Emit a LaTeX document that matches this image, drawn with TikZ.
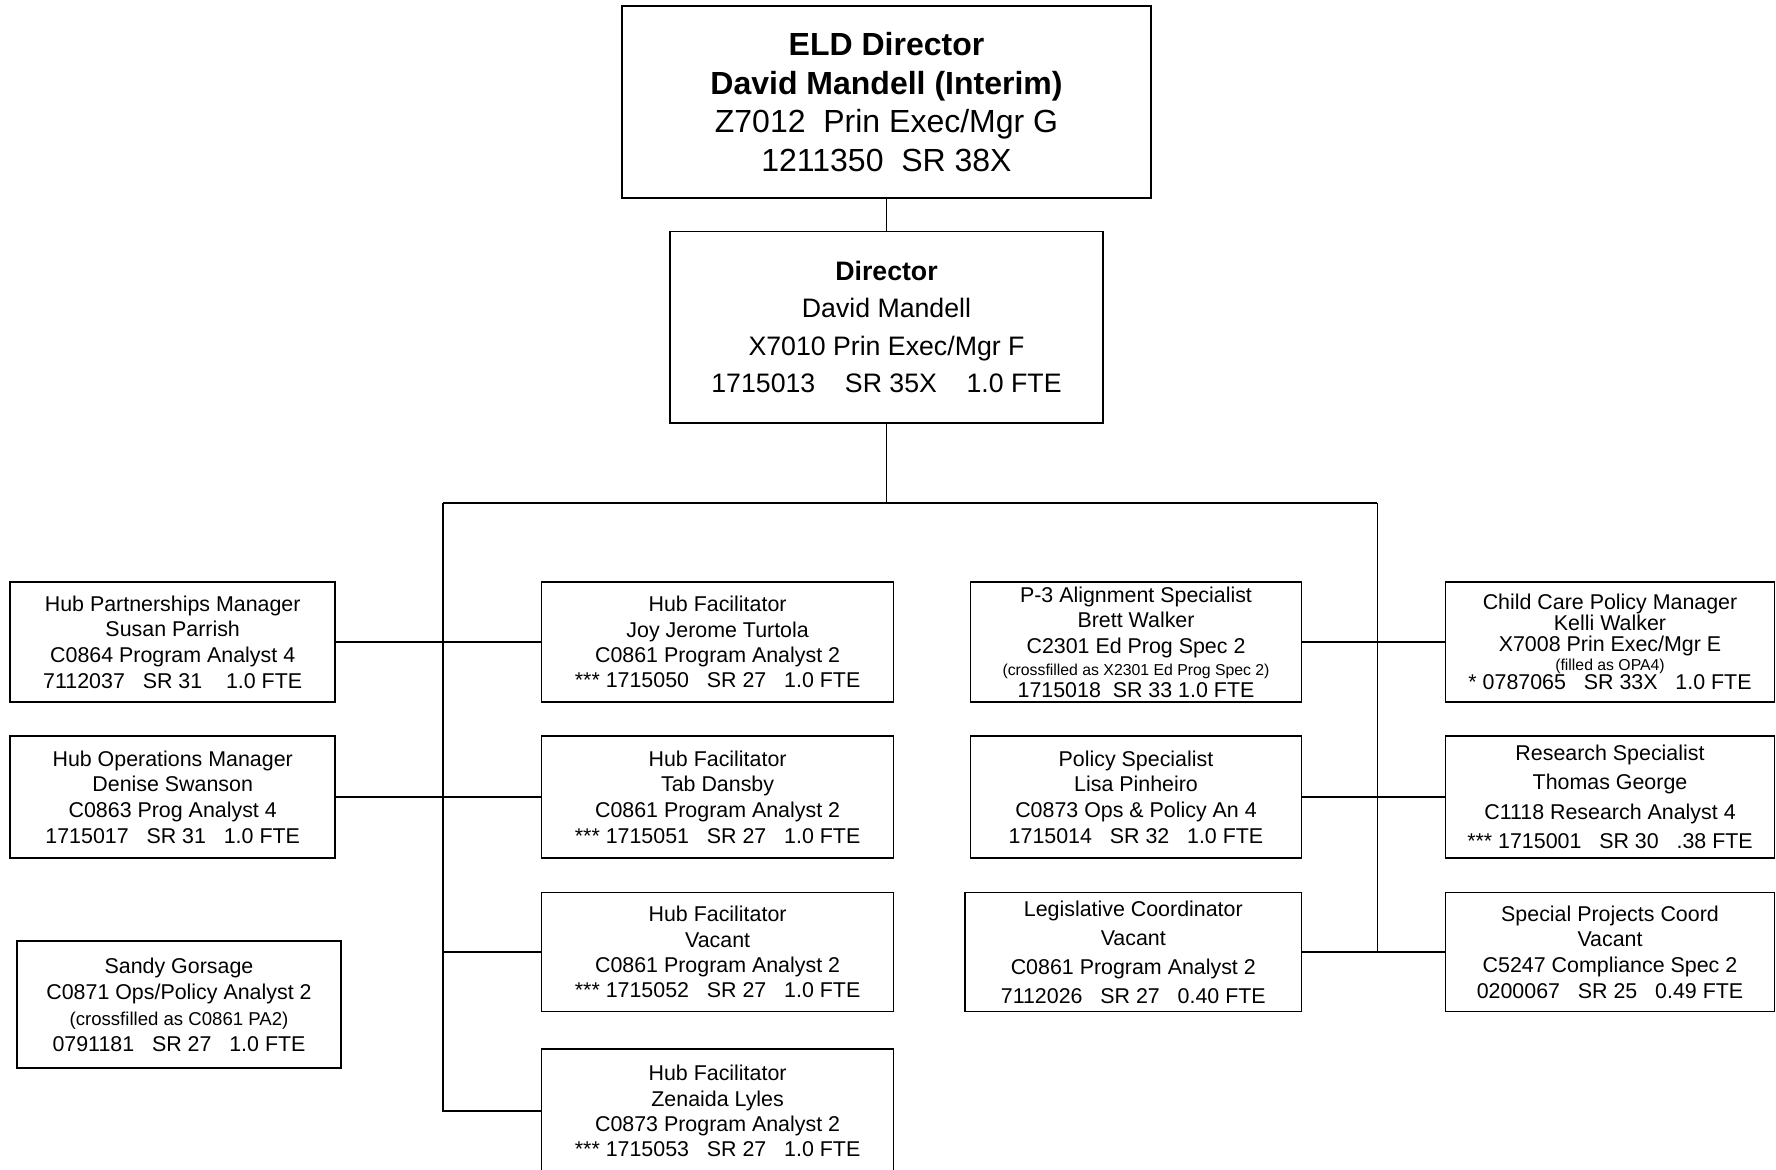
\documentclass[tikz,border=0pt]{standalone}
\usepackage{fontspec}
\setmainfont{Liberation Sans}
\begin{document}
\begin{tikzpicture}[x=0.5pt,y=-0.5pt,
  box/.style={draw, line width=0.75pt, align=center, inner sep=0pt,
    font=\fontsize{10.7}{12.85}\selectfont},
  conn/.style={line width=0.7pt},
]
\useasboundingbox (0,0) rectangle (1776,1169);
% top
\node[box, line width=0.95pt, minimum width=264.5pt, minimum height=96pt,
  font=\fontsize{16}{19.3}\selectfont] (top) at (886.5,102)
  {\textbf{ELD Director}\\\textbf{David Mandell (Interim)}\\Z7012\ \ Prin Exec/Mgr G\\1211350\ \ SR 38X};
\node[box, minimum width=216.5pt, minimum height=95.75pt,
  font=\fontsize{13.35}{18.7}\selectfont] (dir) at (886.5,327)
  {\textbf{Director}\\David Mandell\\X7010 Prin Exec/Mgr F\\1715013\ \ \ \ SR 35X\ \ \ \ 1.0 FTE};
% left column
\node[box, minimum width=162.5pt, minimum height=60pt] (hp) at (172.7,642)
  {Hub Partnerships Manager\\Susan Parrish\\C0864 Program Analyst 4\\7112037\ \ \ SR 31\ \ \ \ 1.0 FTE};
\node[box, minimum width=162.5pt, minimum height=61pt] (ho) at (172.7,797)
  {Hub Operations Manager\\Denise Swanson\\C0863 Prog Analyst 4\\1715017\ \ \ SR 31\ \ \ 1.0 FTE};
\node[box, minimum width=162pt, minimum height=63.5pt,
  font=\fontsize{10.7}{13}\selectfont] (sg) at (179,1004.7)
  {Sandy Gorsage\\C0871 Ops/Policy Analyst 2\\{\fontsize{9.3}{13}\selectfont (crossfilled as C0861 PA2)}\\0791181\ \ \ SR 27\ \ \ 1.0 FTE};
% hub facilitators
\node[box, minimum width=176pt, minimum height=60pt,
  font=\fontsize{10.7}{12.6}\selectfont] (hf1) at (717.6,642)
  {Hub Facilitator\\Joy Jerome Turtola\\C0861 Program Analyst 2\\*** 1715050\ \ \ SR 27\ \ \ 1.0 FTE};
\node[box, minimum width=176pt, minimum height=61pt,
  font=\fontsize{10.7}{12.8}\selectfont] (hf2) at (717.6,797)
  {Hub Facilitator\\Tab Dansby\\C0861 Program Analyst 2\\*** 1715051\ \ \ SR 27\ \ \ 1.0 FTE};
\node[box, minimum width=176pt, minimum height=59.5pt,
  font=\fontsize{10.7}{12.6}\selectfont] (hf3) at (717.6,952)
  {Hub Facilitator\\Vacant\\C0861 Program Analyst 2\\*** 1715052\ \ \ SR 27\ \ \ 1.0 FTE};
\node[box, minimum width=176pt, minimum height=62pt,
  font=\fontsize{10.7}{12.6}\selectfont] (hf4) at (717.6,1111)
  {Hub Facilitator\\Zenaida Lyles\\C0873 Program Analyst 2\\*** 1715053\ \ \ SR 27\ \ \ 1.0 FTE};
% middle right column
\node[box, minimum width=165.5pt, minimum height=60pt,
  font=\fontsize{10.7}{12.75}\selectfont] (p3) at (1136,642)
  {P-3 Alignment Specialist\\Brett Walker\\C2301 Ed Prog Spec 2\\[-1.4pt]{\fontsize{7.9}{12.75}\selectfont (crossfilled as X2301 Ed Prog Spec 2)}\\[-2pt]1715018\ \ SR 33 1.0 FTE};
\node[box, minimum width=165.5pt, minimum height=61pt] (pol) at (1136,797)
  {Policy Specialist\\Lisa Pinheiro\\C0873 Ops \& Policy An 4\\1715014\ \ \ SR 32\ \ \ 1.0 FTE};
\node[box, minimum width=168.25pt, minimum height=59.5pt,
  font=\fontsize{10.7}{14.45}\selectfont] (leg) at (1133.3,952)
  {Legislative Coordinator\\Vacant\\C0861 Program Analyst 2\\7112026\ \ \ SR 27\ \ \ 0.40 FTE};
% right column
\node[box, minimum width=164.5pt, minimum height=60pt,
  font=\fontsize{10.7}{10.5}\selectfont] (cc) at (1610,642)
  {Child Care Policy Manager\\Kelli Walker\\X7008 Prin Exec/Mgr E\\[-1.2pt]{\fontsize{7.9}{10.5}\selectfont (filled as OPA4)}\\[-0.8pt]* 0787065\ \ \ SR 33X\ \ \ 1.0 FTE};
\node[box, minimum width=164.5pt, minimum height=61pt,
  font=\fontsize{10.7}{14.7}\selectfont] (rs) at (1610,797)
  {Research Specialist\\Thomas George\\C1118 Research Analyst 4\\*** 1715001\ \ \ SR 30\ \ \ .38 FTE};
\node[box, minimum width=164.5pt, minimum height=59.5pt] (sp) at (1610,952)
  {Special Projects Coord\\Vacant\\C5247 Compliance Spec 2\\0200067\ \ \ SR 25\ \ \ 0.49 FTE};
% connectors
\coordinate (bl) at (443,503);
\coordinate (br) at (1377.4,503);
\draw[conn] (top.south) -- (dir.north);
\draw[conn] (dir.south) -- (dir.south |- bl);
\draw[conn] (bl) -- (br);
\draw[conn] (bl) |- (hf4.west);
\draw[conn] (br) -- (br |- sp.west);
\draw[conn] (hp.east) -- (hf1.west);
\draw[conn] (ho.east) -- (hf2.west);
\draw[conn] (hf3.west) -- (hf3.west -| bl);
\draw[conn] (p3.east) -- (cc.west);
\draw[conn] (pol.east) -- (rs.west);
\draw[conn] (leg.east) -- (sp.west);
\end{tikzpicture}
\end{document}
